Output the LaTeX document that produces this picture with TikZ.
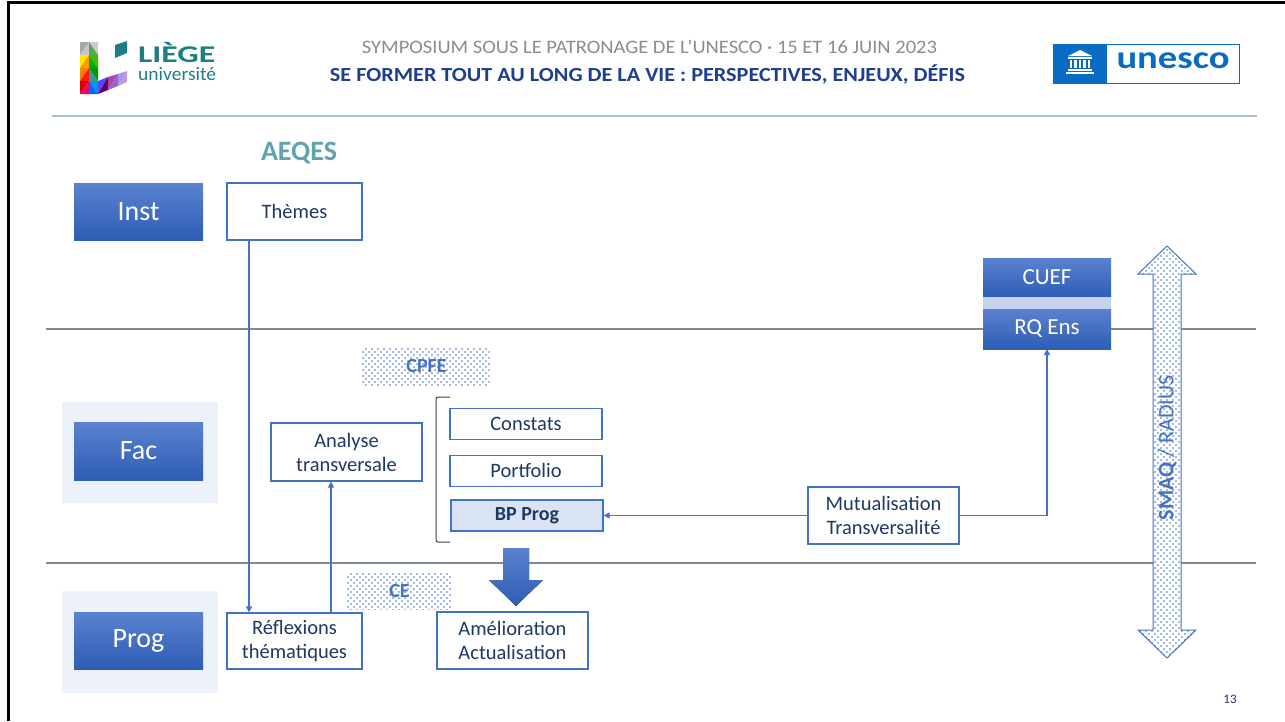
\documentclass[tikz,border=0pt]{standalone}
\usepackage{fontspec}
\setmainfont{Carlito}
\usepackage{graphicx}
\usetikzlibrary{arrows.meta,positioning,patterns.meta,calc}

\definecolor{boxblue}{HTML}{4472C4}
\definecolor{navy}{HTML}{1F3864}
\definecolor{lvltop}{HTML}{5A82CF}
\definecolor{lvlbot}{HTML}{2E5DB5}
\definecolor{panel}{HTML}{EDF1F9}
\definecolor{lanegray}{HTML}{7F8B97}
\definecolor{headrule}{HTML}{A5BED2}
\definecolor{aeqes}{HTML}{5FA4AE}
\definecolor{bpfill}{HTML}{DAE3F3}
\definecolor{bandblue}{HTML}{C5D3EC}
\definecolor{symgray}{HTML}{8C8C8C}
\definecolor{symnavy}{HTML}{1E3E8E}
\definecolor{unblue}{HTML}{0A6BC2}
\definecolor{liege}{HTML}{1E7C86}

\tikzdeclarepattern{
  name=bluedots,
  type=uncolored,
  bottom left={(-1pt,-1pt)},
  top right={(5pt,5pt)},
  tile size={(6pt,6pt)},
  code={
    \fill (0pt,0pt) circle (.85pt);
    \fill (3pt,3pt) circle (.85pt);
  }
}

\begin{document}
\begin{tikzpicture}[x=1pt,y=-1pt,>={Triangle[width=6pt,length=6pt]}]
		\tikzstyle{lvl}=[top color=lvltop, bottom color=lvlbot, text=white, inner sep=0pt, outer sep=0pt, minimum width=129pt, font=\fontsize{28}{30}\selectfont]
		\tikzstyle{box}=[draw=boxblue, line width=1.2pt, fill=white, text=navy, align=center, inner sep=0pt, font=\fontsize{20.5}{24}\selectfont]
		\tikzstyle{dotbox}=[preaction={fill=white}, pattern=bluedots, pattern color=boxblue, text=boxblue, inner sep=0pt, font=\bfseries\fontsize{20}{24}\selectfont]
		\tikzstyle{conn}=[draw=boxblue, line width=1.2pt]
		\tikzstyle{lane}=[draw=lanegray, line width=1.5pt]
		
		\useasboundingbox (0,0) rectangle (1285,721);
		\fill[white] (0,0) rectangle (1285,721);
		\draw[line width=3pt] (7,2.7) -- (1285,2.7);
		\draw[line width=3pt] (8.5,1.2) -- (8.5,721);
		
		% header
		\fill[liege] (115,45) -- (127,41) -- (127,53) -- (115,58) -- cycle;
		\foreach \xa/\ya/\xb/\yb/\xc/\yc/\col in {
			80/42/89/42/80/55/gray!70, 89/42/89/55/80/55/gray!45,
			89/42/98/42/98/55/gray!40, 89/42/98/55/89/55/green!35!gray,
			80/55/89/55/80/68/yellow!90!orange, 89/55/89/68/80/68/orange!80!yellow,
			89/55/98/55/98/68/green!60!black!70!yellow, 89/55/98/68/89/68/green!70!black,
			80/68/89/68/80/81/orange, 89/68/89/81/80/81/red!80!orange,
			89/68/98/68/98/81/green!60!black, 89/68/98/81/89/81/teal!80,
			80/81/89/81/80/94/red!85!black, 89/81/89/94/80/94/magenta!70!red,
			89/81/98/81/98/94/cyan!80!blue, 89/81/98/94/89/94/blue!60!cyan,
			98/81/108/77/98/94/blue!70!white, 108/77/108/90/98/94/violet!80!black,
			108/77/118/74/108/90/violet!70, 118/74/118/86/108/90/blue!30!violet!60,
			118/74/127/71/118/86/blue!40!white, 127/71/127/82/118/86/violet!40}
			\fill[\col] (\xa,\ya) -- (\xb,\yb) -- (\xc,\yc) -- cycle;
		\node[text=liege, font=\bfseries\fontsize{24}{26}\selectfont, anchor=base west, inner sep=0pt] (liegename) at (138,62) {\resizebox{77pt}{\height}{LIÈGE}};
		\node[text=liege, font=\fontsize{19}{21}\selectfont, anchor=base west, inner sep=0pt] (univ) at (138,80) {\resizebox{78pt}{\height}{université}};
		
		\node[text=symgray, font=\fontsize{19}{21}\selectfont, anchor=base, inner sep=0pt] (sympo) at (649.5,53) {\resizebox{575pt}{\height}{SYMPOSIUM SOUS LE PATRONAGE DE L’UNESCO · 15 ET 16 JUIN 2023}};
		\node[text=symnavy, font=\bfseries\fontsize{20}{22}\selectfont, anchor=base, inner sep=0pt] (motto) at (647.5,81) {\resizebox{635pt}{\height}{SE FORMER TOUT AU LONG DE LA VIE : PERSPECTIVES, ENJEUX, DÉFIS}};
		
		\draw[draw=unblue, line width=1pt, fill=white] (1053,44) rectangle (1239,83);
		\fill[unblue] (1053,44) rectangle (1107,83);
		\fill[white] (1068,56) -- (1080,50) -- (1092,56) -- cycle;
		\fill[white] (1068,57) rectangle (1092,58.5);
		\foreach \cx in {1069.5,1074,1078.5,1083,1087.5}
			\fill[white] (\cx,59.5) rectangle (\cx+2.5,68);
		\fill[white] (1068,69) rectangle (1092,70.5);
		\fill[white] (1066,71.5) rectangle (1094,73.5);
		\node[text=unblue, font=\bfseries\fontsize{32}{34}\selectfont, inner sep=0pt] (unesco) at (1173,61) {\resizebox{113pt}{\height}{unesco}};
		
		\draw[draw=headrule, line width=1.5pt] (52,116) -- (1257,116);
		
		% levels
		\draw[lane] (46,329) -- (1256,329);
		\draw[lane] (46,563) -- (1256,563);
		\fill[panel] (62,402) rectangle (218,503);
		\fill[panel] (62,591) rectangle (218,693);
		
		\node[lvl, minimum height=57pt] (inst) at (138.5,211.5) {Inst};
		\node[lvl, minimum height=58pt] (fac) at (138.5,451) {Fac};
		\node[lvl, minimum height=57pt] (prog) at (138.5,640.5) {Prog};
		
		\node[text=aeqes, font=\bfseries\fontsize{28}{30}\selectfont] (aeqes) at (299,153) {AEQES};
		
		\node[box, minimum width=135pt, minimum height=57pt] (themes) at (294.5,211.5) {Thèmes};
		\node[box, minimum width=151pt, minimum height=58pt] (analyse) at (346.5,452) {Analyse\\transversale};
		\node[box, minimum width=135pt, minimum height=56pt] (reflex) at (294.5,641) {Réflexions\\thématiques};
		
		\node[dotbox, minimum width=129pt, minimum height=37pt] (cpfe) at (426.5,366.5) {CPFE};
		\node[dotbox, minimum width=105pt, minimum height=36pt] (ce) at (399.5,591) {CE};
		
		\draw[draw=black!75, line width=1pt, rounded corners=2pt] (450,397) -- (436,397) -- (436,542) -- (450,542);
		\node[box, minimum width=152pt, minimum height=31pt] (constats) at (526,424) {Constats};
		\node[box, minimum width=152pt, minimum height=31pt, below=14.5pt of constats] (portfolio) {Portfolio};
		\node[box, fill=bpfill, font=\bfseries\fontsize{20}{24}\selectfont, minimum width=152pt, minimum height=31pt] (bpprog) at (527,515.5) {BP Prog};
		
		\node[box, minimum width=151pt, minimum height=57pt] (mutual) at (883.5,515.5) {Mutualisation\\Transversalité};
		\node[box, minimum width=151pt, minimum height=57pt] (amelio) at (512.5,640.5) {Amélioration\\Actualisation};
		
		\fill[top color=lvltop, bottom color=lvlbot] (503,548) -- (529,548) -- (529,580) -- (543,580) -- (516,606) -- (489,580) -- (503,580) -- cycle;
		
		\node[lvl, minimum width=128pt, minimum height=39pt, font=\fontsize{23}{25}\selectfont] (cuef) at (1047,277.5) {CUEF};
		\node[fill=bandblue, inner sep=0pt, outer sep=0pt, minimum width=128pt, minimum height=12pt, below=0pt of cuef] (band) {};
		\node[lvl, minimum width=128pt, minimum height=40pt, font=\fontsize{23}{25}\selectfont, below=0pt of band] (rqens) {RQ Ens};
		
		% connectors
		\coordinate (drop) at (249,0);
		\coordinate (rise) at (331,0);
		\draw[conn, ->] (themes.south -| drop) -- (reflex.north -| drop);
		\draw[conn, ->] (reflex.north -| rise) -- (analyse.south -| rise);
		\draw[conn, ->] (mutual.west) -- (bpprog.east);
		\draw[conn, ->] (mutual.east) -| (rqens.south);
		
		% SMAQ / RADIUS
		\draw[draw=boxblue, line width=1pt, preaction={fill=white}, pattern=bluedots, pattern color=boxblue] (1167,246) -- (1196,274) -- (1181,274) -- (1181,630) -- (1196,630) -- (1167,658) -- (1138,630) -- (1153,630) -- (1153,274) -- (1138,274) -- cycle;
		\node[rotate=90, text=boxblue, font=\fontsize{22}{24}\selectfont] (smaq) at (1167,448) {\textbf{SMAQ} / RADIUS};
		
		\node[text=navy, font=\fontsize{13}{15}\selectfont] (pagenum) at (1230,699) {13};
	\end{tikzpicture}
\end{document}
